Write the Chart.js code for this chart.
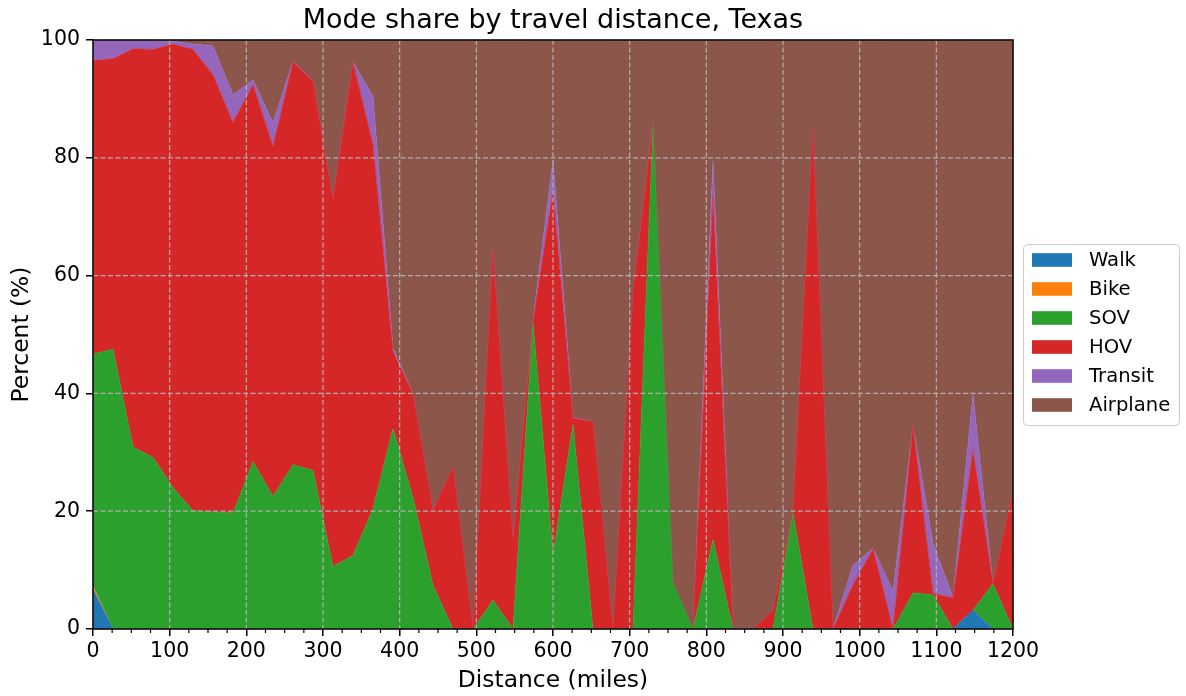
<!DOCTYPE html>
<html>
<head>
<meta charset="utf-8">
<script src="https://cdn.jsdelivr.net/npm/chart.js@4.4.1/dist/chart.umd.min.js"></script>
<style>
  html, body { margin: 0; padding: 0; background: #fff; }
  #wrap { width: 1186px; height: 696px; }
</style>
</head>
<body>
<div id="wrap"><canvas id="chart" width="1186" height="696"></canvas></div>
<script>
// distance bins (miles)
const distance = [0, 26.1, 52.2, 78.3, 104.3, 130.4, 156.5, 182.6, 208.7, 234.8,
  260.9, 287.0, 313.0, 339.1, 365.2, 391.3, 417.4, 443.5, 469.6, 495.7,
  521.7, 547.8, 573.9, 600.0, 626.1, 652.2, 678.3, 704.3, 730.4, 756.5,
  782.6, 808.7, 834.8, 860.9, 887.0, 913.0, 939.1, 965.2, 991.3, 1017.4,
  1043.5, 1069.6, 1095.7, 1121.7, 1147.8, 1173.9, 1200];

// mode shares (%)
const walk = [6.8, 0, 0, 0, 0, 0, 0, 0, 0, 0, 0, 0, 0, 0, 0, 0, 0, 0, 0, 0, 0, 0, 0, 0,
  0, 0, 0, 0, 0, 0, 0, 0, 0, 0, 0, 0, 0, 0, 0, 0, 0, 0, 0, 0, 3.2, 0, 0];
const bike = [0.5, 0, 0, 0, 0, 0, 0, 0, 0, 0, 0, 0, 0, 0, 0, 0, 0, 0, 0, 0, 0, 0, 0, 0,
  0, 0, 0, 0, 0, 0, 0, 0, 0, 0, 0, 0, 0, 0, 0, 0, 0, 0, 0, 0, 0, 0, 0];
const sov = [39.4, 47.5, 30.9, 29.1, 24.0, 20.1, 19.9, 19.7, 28.4, 22.5,
  27.9, 26.9, 10.6, 12.5, 20.4, 34.0, 22.3, 7.4, 0, 0,
  4.9, 0, 52.0, 12.6, 34.7, 0, 0, 0, 85.5, 7.9,
  0, 15.2, 0, 0, 0, 19.7, 0, 0, 0, 0,
  0, 6.1, 5.8, 0, 0, 7.7, 0];
const hov = [49.8, 49.3, 67.6, 69.3, 75.3, 78.3, 74.2, 66.3, 64.0, 59.4,
  68.4, 66.1, 62.3, 83.7, 61.8, 13.1, 17.6, 12.7, 27.5, 0,
  59.6, 15.2, 0.2, 61.7, 1.1, 35.2, 0, 57.0, 0.5, 0,
  0, 58.4, 0, 0, 3.2, 0.2, 85.0, 0, 7.5, 13.6,
  0, 28.3, 0.2, 5.3, 27.2, 0, 23.3];
const transit = [3.5, 3.2, 1.5, 1.6, 0.5, 0.9, 4.9, 4.7, 0.8, 4.0,
  0.1, 0.1, 0.1, 0.1, 8.2, 0.6, 0.1, 0, 0, 0,
  0.1, 0, 0.3, 5.2, 0.1, 0, 0, 0, 0.2, 0,
  0, 5.9, 0, 0, 0, 0, 0, 0, 3.3, 0.1,
  6.4, 0.1, 8.5, 0.1, 9.4, 0, 0];
const airplane = [0, 0, 0, 0, 0.2, 0.7, 1.0, 9.3, 6.8, 14.1,
  3.6, 6.9, 27.0, 3.7, 9.6, 52.3, 60.0, 79.9, 72.5, 100,
  35.4, 84.8, 47.5, 20.5, 64.1, 64.8, 100, 43.0, 13.8, 92.1,
  100, 20.5, 100, 100, 96.8, 80.1, 15.0, 100, 89.2, 86.3,
  93.6, 65.5, 85.5, 94.6, 60.2, 92.3, 76.7];

const modes = ['Walk', 'Bike', 'SOV', 'HOV', 'Transit', 'Airplane'];
const colors = ['#1f77b4', '#ff7f0e', '#2ca02c', '#d62728', '#9467bd', '#8c564b'];
const series = [walk, bike, sov, hov, transit, airplane];

const FONT = "'DejaVu Sans', sans-serif";
Chart.defaults.font.family = FONT;
Chart.defaults.font.size = 20.5;
Chart.defaults.color = '#000';

const datasets = modes.map((m, k) => ({
  label: m,
  data: distance.map((d, i) => ({ x: d, y: series[k][i] })),
  backgroundColor: colors[k],
  borderColor: colors[k],
  borderWidth: 0.6,
  pointRadius: 0,
  pointHoverRadius: 0,
  tension: 0,
  fill: k === 0 ? 'origin' : '-1'
}));

// grid over the areas, frame, minor ticks, title and legend
const decor = {
  id: 'decor',
  afterDatasetsDraw(chart) {
    const { ctx, chartArea: a, scales: { x, y } } = chart;
    ctx.save();
    ctx.strokeStyle = '#b0b0b0';
    ctx.lineWidth = 1.2;
    ctx.setLineDash([5, 2.5]);
    x.ticks.forEach(t => {
      const px = x.getPixelForValue(t.value);
      ctx.beginPath(); ctx.moveTo(px, a.top); ctx.lineTo(px, a.bottom); ctx.stroke();
    });
    y.ticks.forEach(t => {
      const py = y.getPixelForValue(t.value);
      ctx.beginPath(); ctx.moveTo(a.left, py); ctx.lineTo(a.right, py); ctx.stroke();
    });
    ctx.setLineDash([]);
    ctx.strokeStyle = '#000';
    ctx.lineWidth = 1.2;
    for (let v = x.min; v <= x.max; v += 25) {
      if (v % 100 === 0) continue;
      const px = x.getPixelForValue(v);
      ctx.beginPath(); ctx.moveTo(px, a.bottom); ctx.lineTo(px, a.bottom + 4); ctx.stroke();
    }
    ctx.lineWidth = 1.5;
    ctx.strokeRect(a.left, a.top, a.right - a.left, a.bottom - a.top);
    ctx.restore();
  },
  afterDraw(chart) {
    const { ctx, chartArea: a } = chart;
    ctx.save();
    ctx.fillStyle = '#000';
    ctx.font = `27px ${FONT}`;
    ctx.textAlign = 'center';
    ctx.textBaseline = 'middle';
    ctx.fillText('Mode share by travel distance, Texas', (a.left + a.right) / 2, 21);

    // legend
    const lx = 1023.5, ly = 244.5, lw = 156, lh = 181;
    ctx.beginPath();
    ctx.roundRect(lx, ly, lw, lh, 4);
    ctx.fillStyle = 'rgba(255,255,255,0.8)';
    ctx.fill();
    ctx.strokeStyle = '#cccccc';
    ctx.lineWidth = 1;
    ctx.stroke();
    ctx.font = `19.6px ${FONT}`;
    ctx.textAlign = 'left';
    chart.data.datasets.forEach((ds, i) => {
      const cy = 260 + i * 29;
      ctx.fillStyle = ds.backgroundColor;
      ctx.fillRect(1032, cy - 6.8, 40, 13.6);
      ctx.fillStyle = '#000';
      ctx.fillText(ds.label, 1089, cy + 1);
    });
    ctx.restore();
  }
};

new Chart(document.getElementById('chart'), {
  type: 'line',
  data: { datasets },
  options: {
    responsive: false,
    animation: false,
    devicePixelRatio: 1,
    layout: { padding: { left: 8, right: 173, top: 40, bottom: 1 } },
    plugins: {
      legend: { display: false },
      title: { display: false },
      tooltip: { enabled: false }
    },
    scales: {
      x: {
        type: 'linear',
        min: 0,
        max: 1200,
        border: { display: false },
        grid: { drawOnChartArea: false, drawTicks: true, tickLength: 7, color: '#000', lineWidth: 1.5 },
        ticks: { stepSize: 100, padding: 3, maxRotation: 0, autoSkip: false, callback: v => String(v) },
        title: { display: true, text: 'Distance (miles)', padding: 0, font: { size: 23.4 } },
        afterFit: s => { s.height = 66; s.paddingLeft = 0; s.paddingRight = 0; }
      },
      y: {
        stacked: true,
        min: 0,
        max: 100,
        border: { display: false },
        grid: { drawOnChartArea: false, drawTicks: true, tickLength: 7, color: '#000', lineWidth: 1.5 },
        ticks: { stepSize: 20, padding: 6, callback: v => String(v) },
        title: { display: true, text: 'Percent (%)', padding: 0, font: { size: 23.4 } },
        afterFit: s => { s.width = 85; s.paddingTop = 0; s.paddingBottom = 0; }
      }
    }
  },
  plugins: [decor]
});
</script>
</body>
</html>
